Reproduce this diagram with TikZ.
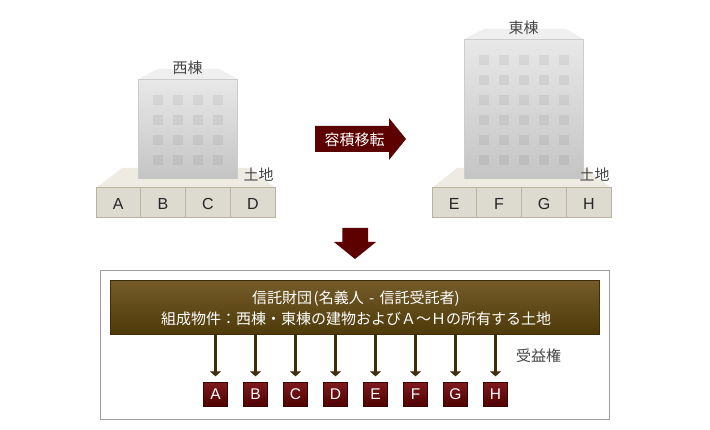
\documentclass[tikz,border=0pt]{standalone}
\usepackage{fontspec}
\setmainfont{Noto Sans CJK JP}
\newfontfamily\latinf{Liberation Sans}
\usetikzlibrary{arrows.meta}
\definecolor{maroon}{HTML}{5C0000}
\definecolor{cellfill}{HTML}{DDDAD0}
\definecolor{celledge}{HTML}{B9B39F}
\definecolor{landtop}{HTML}{EEEBE3}
\definecolor{brownedge}{HTML}{3F2D0A}
\definecolor{browntop}{HTML}{745C2A}
\definecolor{brownbot}{HTML}{4E3908}
\definecolor{tagtop}{HTML}{7E1A1E}
\definecolor{tagbot}{HTML}{4E0000}
\definecolor{tagedge}{HTML}{3A0505}
\definecolor{rooffill}{HTML}{EFEFEF}
\tikzset{
  px/.style={font=\fontsize{15}{20}\selectfont},
  lot/.style={draw=celledge,line width=0.9pt,fill=cellfill,minimum width=45pt,minimum height=29.5pt,inner sep=0pt,text=black!85,text height=14.1pt,text depth=0pt,font=\latinf\fontsize{16}{16}\selectfont},
  wall/.style={top color=black!9,bottom color=black!23,draw=none},
  roof/.style={fill=rooffill,draw=none},
  wallline/.style={draw=black!20,line width=0.8pt},
  pane/.style={fill=black,fill opacity=0.055,draw=none},
  caption/.style={px,text=black!72,inner sep=0pt},
  bigarrow/.style={fill=maroon,draw=none},
  flow/.style={draw=brownedge,line width=2.6pt,-{Triangle[width=11pt,length=5pt]},shorten >=5.5pt},
  tag/.style={draw=tagedge,line width=0.8pt,top color=tagtop,bottom color=tagbot,minimum size=24.5pt,inner sep=0pt,text=white,font=\latinf\fontsize{15.5}{15.5}\selectfont},
}
\begin{document}
\begin{tikzpicture}[x=1pt,y=-1pt]
\useasboundingbox[fill=white] (0,0) rectangle (710,430);
% west land
\fill[landtop] (122,168) -- (250,168) -- (275.5,188) -- (96,188) -- cycle;
\node[lot,minimum width=44.5pt] (wa) at (118.3,202.7) {A};
\node[lot] (wb) at (163,202.7) {B};
\node[lot] (wc) at (208,202.7) {C};
\node[lot] (wd) at (253,202.7) {D};
% west building
\fill[roof] (138,79.3) -- (158,69) -- (220,69) -- (237.7,79.3) -- cycle;
\fill[wall] (138,79.3) rectangle (237.7,178.7);
\draw[wallline] (138.2,178.7) -- (138.2,79.5) -- (237.5,79.5) -- (237.5,178.7);
\foreach \c in {0,...,3} \foreach \r in {0,...,3}
  \fill[pane] (153+20*\c,95+20*\r) rectangle +(10,10);
\node[caption] (westname) at (187.5,67.5) {西棟};
\node[caption] (westland) at (258.5,174.5) {土地};
% east land
\fill[landtop] (457,168) -- (586,168) -- (611.5,188) -- (432,188) -- cycle;
\node[lot,minimum width=44.5pt] (ea) at (454.3,202.7) {E};
\node[lot] (eb) at (499,202.7) {F};
\node[lot] (ec) at (544,202.7) {G};
\node[lot] (ed) at (589,202.7) {H};
% east building
\fill[roof] (464,39.3) -- (484,29) -- (565.7,29) -- (583.7,39.3) -- cycle;
\fill[wall] (464,39.3) rectangle (583.7,178.7);
\draw[wallline] (464.2,178.7) -- (464.2,39.5) -- (583.5,39.5) -- (583.5,178.7);
\foreach \c in {0,...,4} \foreach \r in {0,...,5}
  \fill[pane] (479+20*\c,55+20*\r) rectangle +(10,10);
\node[caption] (eastname) at (523.5,27.5) {東棟};
\node[caption] (eastland) at (594.5,174.5) {土地};
% big arrows
\fill[bigarrow] (315,126) -- (389,126) -- (389,118) -- (406,139) -- (389,160) -- (389,152) -- (315,152) -- cycle;
\node[px,text=white,inner sep=0pt] (transfer) at (354.5,139.5) {容積移転};
\fill[bigarrow] (342.3,228) -- (368,228) -- (368,242) -- (376,242) -- (355,259) -- (334,242) -- (342.3,242) -- cycle;
% trust box
\node[draw=black!38,line width=0.9pt,minimum width=509pt,minimum height=149pt,inner sep=0pt] (frame) at (355,345) {};
\node[draw=brownedge,line width=0.9pt,top color=browntop,bottom color=brownbot,minimum width=489.4pt,minimum height=54.4pt,inner sep=0pt] (trust) at (355,307.5) {};
\node[px,text=white,inner sep=0pt] (trustline1) at (356,298.5) {信託財団\hspace{1.5pt}(名義人\hspace{2pt} - \hspace{2pt}信託受託者)\hspace{1.5pt}};
\node[px,text=white,inner sep=0pt] (trustline2) at (356,319) {組成物件：西棟・東棟の建物およびＡ～Ｈの所有する土地};
\node[caption] (benefit) at (538.5,356) {受益権};
\foreach \n/\x in {A/215.5,B/255.5,C/295.5,D/335.5,E/375.5,F/415.5,G/455.5,H/495.5}{
  \node[tag] (t\n) at (\x,394.5) {\n};
  \draw[flow] (t\n.north |- trust.south) -- (t\n.north);
}
\end{tikzpicture}
\end{document}
